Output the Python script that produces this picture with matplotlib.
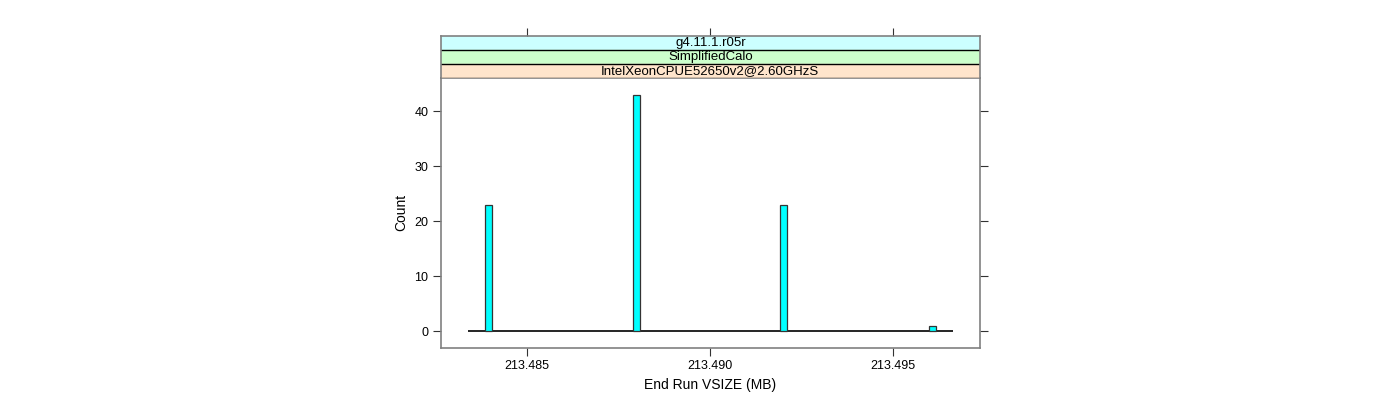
import matplotlib
matplotlib.use("Agg")
import matplotlib.pyplot as plt

plt.rcParams['font.family'] = ['Liberation Sans', 'DejaVu Sans']

# histogram bins with non-zero counts (centre of bin, count)
bin_centers = [213.48395, 213.48798, 213.49202, 213.49607]
counts = [23, 43, 23, 1]
bin_width = 0.00019
hist_range = [213.48338, 213.49664]   # span of all bins (zero bins show as the baseline)

strip_labels = ["g4.11.1.r05r", "SimplifiedCalo", "IntelXeonCPUE52650v2@2.60GHzS"]
strip_colors = ["#CCFFFF", "#CCFFCC", "#FFE5CC"]

xticks = [213.485, 213.490, 213.495]
xticklabels = ["213.485", "213.490", "213.495"]
yticks = [0, 10, 20, 30, 40]

frame_col = "#808080"

fig = plt.figure(figsize=(14, 4), dpi=100)
ax = fig.add_axes([0.3148, 0.1308, 0.3852, 0.6742])
sx = fig.add_axes([0.3148, 0.805, 0.3852, 0.10575], sharex=ax)

# baseline made of the empty bins
ax.hlines(0, hist_range[0], hist_range[1], color="black", lw=1.2, zorder=2)
ax.bar(bin_centers, counts, width=bin_width, color="#00FFFF",
       edgecolor="#333333", linewidth=0.9, zorder=3)

ax.set_xlim(213.48264, 213.49738)
ax.set_ylim(-3.0, 46.0)
ax.set_xticks(xticks)
ax.set_xticklabels(xticklabels)
ax.set_yticks(yticks)
ax.tick_params(axis="both", direction="out", length=6, width=0.8, color="#333333",
               labelsize=9, pad=3)
ax.tick_params(axis="y", right=True, labelright=False)
ax.tick_params(axis="x", top=False)
for s in ax.spines.values():
    s.set_color(frame_col)
    s.set_linewidth(1.2)
ax.set_xlabel("End Run VSIZE (MB)", fontsize=10, labelpad=4)
ax.set_ylabel("Count", fontsize=10, labelpad=4)

# strips
sx.set_ylim(0, 3)
for i, (lab, col) in enumerate(zip(strip_labels, strip_colors)):
    y0 = 2 - i
    sx.axhspan(y0, y0 + 1, color=col, zorder=1)
    sx.text(0.5, y0 + 0.5, lab, transform=sx.get_yaxis_transform(),
            ha="center", va="center", fontsize=9.5, zorder=3)
    sx.axhline(y0, color="black", lw=1.0, zorder=2)
sx.set_yticks([])
sx.tick_params(axis="x", bottom=False, labelbottom=False, top=True, labeltop=False,
               direction="out", length=6, width=0.8, color="#333333")
for k, s in sx.spines.items():
    s.set_color(frame_col)
    s.set_linewidth(1.2)
sx.spines["bottom"].set_visible(False)

fig.savefig("out.png", dpi=100)
